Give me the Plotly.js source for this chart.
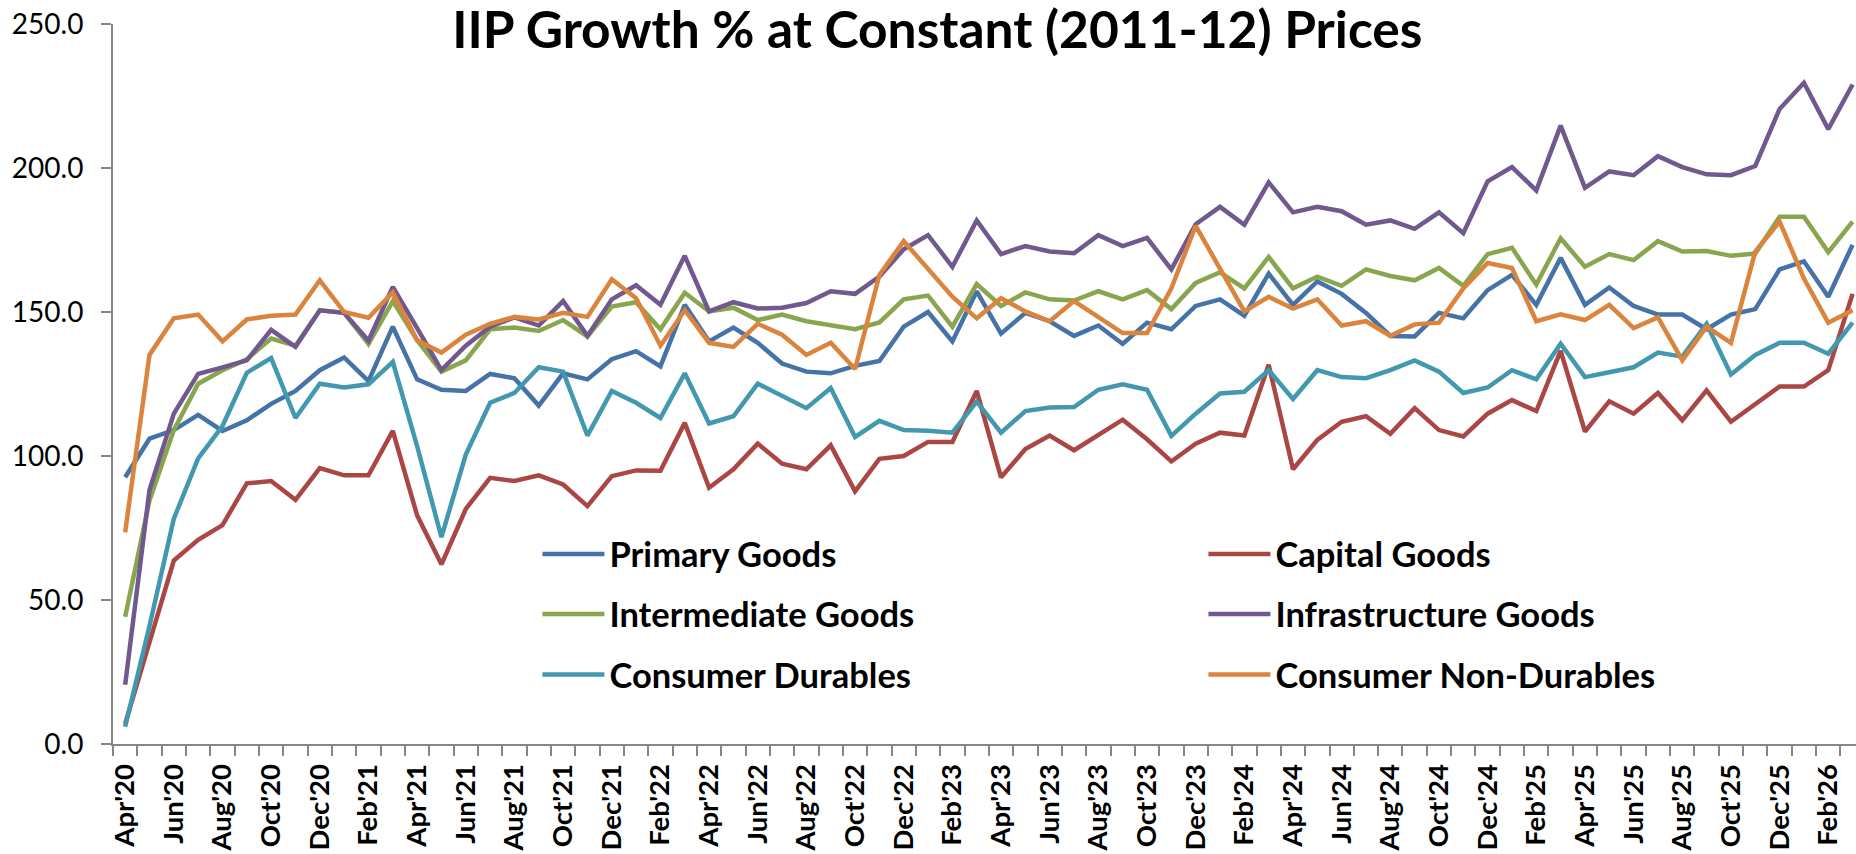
<!DOCTYPE html>
<html>
<head>
<meta charset="utf-8">
<script src="https://cdn.plot.ly/plotly-3.0.1.min.js"></script>
<style>html,body{margin:0;padding:0;background:#fff;}#chart{width:1856px;height:854px;}</style>
</head>
<body>
<div id="chart"></div>
<script>
const months = ["Apr'20","May'20","Jun'20","Jul'20","Aug'20","Sep'20","Oct'20","Nov'20","Dec'20","Jan'21","Feb'21","Mar'21",
"Apr'21","May'21","Jun'21","Jul'21","Aug'21","Sep'21","Oct'21","Nov'21","Dec'21","Jan'22","Feb'22","Mar'22",
"Apr'22","May'22","Jun'22","Jul'22","Aug'22","Sep'22","Oct'22","Nov'22","Dec'22","Jan'23","Feb'23","Mar'23",
"Apr'23","May'23","Jun'23","Jul'23","Aug'23","Sep'23","Oct'23","Nov'23","Dec'23","Jan'24","Feb'24","Mar'24",
"Apr'24","May'24","Jun'24","Jul'24","Aug'24","Sep'24","Oct'24","Nov'24","Dec'24","Jan'25","Feb'25","Mar'25",
"Apr'25","May'25","Jun'25","Jul'25","Aug'25","Sep'25","Oct'25","Nov'25","Dec'25","Jan'26","Feb'26","Mar'26"];

const primaryGoods = [92.6,106.0,109.0,114.3,108.7,112.4,118.1,122.6,129.8,134.2,126.0,144.9,
126.6,123.0,122.6,128.5,127.0,117.5,128.7,126.6,133.6,136.4,131.1,152.5,
139.8,144.6,139.3,132.1,129.3,128.7,131.3,133.0,144.9,150.0,139.8,157.2,
142.5,149.7,146.8,141.7,145.3,138.9,146.3,144.0,152.1,154.4,148.7,163.3,
152.5,160.6,156.3,149.7,141.7,141.5,149.7,147.8,157.6,162.9,152.5,168.8,
152.5,158.5,152.1,149.1,149.1,144.0,149.1,151.0,164.8,167.6,155.3,173.3];

const capitalGoods = [7.0,35.3,63.7,70.9,76.0,90.5,91.3,84.8,95.8,93.3,93.3,108.7,
79.4,62.4,81.6,92.4,91.3,93.3,90.1,82.6,93.0,95.0,94.9,111.5,
89.0,95.4,104.3,97.3,95.4,103.7,87.7,99.0,100.0,104.9,104.9,122.6,
92.6,102.4,107.1,102.0,107.5,112.6,105.8,98.1,104.3,108.1,107.1,131.7,
95.4,105.6,111.9,113.8,107.7,116.6,109.0,106.8,114.7,119.4,115.6,136.5,
108.5,119.0,114.7,121.9,112.4,122.8,111.9,117.9,124.1,124.1,129.8,156.3];

const intermediateGoods = [44.2,84.5,109.0,125.1,129.8,133.6,140.8,138.3,150.6,149.7,138.9,153.8,
140.2,129.3,133.2,144.0,144.6,143.4,147.2,141.5,151.9,153.4,144.0,156.7,
150.2,151.5,147.2,149.1,146.8,145.3,144.0,146.4,154.4,155.7,144.9,159.7,
152.1,156.8,154.4,154.0,157.2,154.4,157.6,151.0,160.1,163.8,158.2,169.1,
158.2,162.3,159.1,164.8,162.5,161.0,165.3,159.1,170.1,172.3,159.5,175.6,
165.7,170.1,168.0,174.6,171.0,171.2,169.5,170.3,183.1,183.1,170.8,181.4];

const infrastructureGoods = [20.6,88.2,114.7,128.5,130.8,133.2,143.8,137.9,150.6,149.7,140.0,158.7,
144.4,129.8,138.3,144.9,148.1,145.3,153.8,141.7,154.4,159.3,152.5,169.5,
150.2,153.4,151.2,151.5,153.1,157.2,156.3,162.3,171.8,176.7,165.7,181.8,
170.1,172.9,171.0,170.4,176.7,172.9,175.7,164.8,180.5,186.5,180.3,195.0,
184.6,186.5,185.0,180.3,181.8,178.9,184.6,177.4,195.4,200.3,192.2,214.7,
193.1,198.8,197.5,204.1,200.3,197.8,197.5,200.7,220.5,229.6,213.5,229.0];

const consumerDurables = [6.0,41.0,78.2,99.2,110.4,128.9,134.0,113.2,125.1,123.8,124.9,132.7,
103.4,71.8,100.5,118.5,121.9,130.8,129.3,107.1,122.6,118.5,113.2,128.7,
111.3,113.8,125.1,120.9,116.6,123.6,106.6,112.2,109.0,108.8,108.1,118.9,
108.1,115.6,116.8,117.0,123.0,124.9,123.0,107.0,114.7,121.7,122.3,129.8,
119.8,129.8,127.4,127.0,129.8,133.2,129.3,121.9,123.8,129.8,126.6,139.0,
127.4,129.1,130.8,135.9,134.5,145.9,128.3,135.1,139.3,139.3,135.5,146.3];

const consumerNonDurables = [73.5,135.1,147.8,149.1,139.8,147.4,148.7,149.1,161.0,150.0,148.0,156.8,
140.2,135.9,142.1,145.9,148.3,147.4,149.7,148.3,161.4,154.8,138.3,150.6,
139.3,137.9,145.9,142.1,135.1,139.3,130.2,162.9,174.6,164.8,155.3,147.8,
154.8,150.2,146.8,153.8,148.1,142.7,142.7,158.2,179.9,164.8,150.2,155.3,
151.2,154.4,145.3,146.8,141.7,145.7,146.3,158.2,167.0,165.3,146.8,149.2,
147.2,152.5,144.4,148.1,133.2,144.9,139.3,171.0,181.4,161.6,146.3,150.6];

const seriesNames = ["Primary Goods","Capital Goods","Intermediate Goods","Infrastructure Goods","Consumer Durables","Consumer Non-Durables"];
const seriesValues = [primaryGoods, capitalGoods, intermediateGoods, infrastructureGoods, consumerDurables, consumerNonDurables];
const seriesColors = ["#4572A7","#AA4643","#89A54E","#71588F","#4198AF","#DB843D"];
const legendIds = ["legend","legend2","legend3","legend4","legend5","legend6"];

const tickText = months.map((m, i) => (i % 2 === 0 ? m : ""));

const traces = seriesNames.map((name, k) => ({
  type: "scatter",
  mode: "lines",
  name: name,
  x: months,
  y: seriesValues[k],
  line: {color: seriesColors[k], width: 4.5},
  legend: legendIds[k],
  hoverinfo: "skip"
}));

const axisGray = "#868686";
const legendFont = {family: "Lato, 'Open Sans', sans-serif", size: 34.5, color: "#000", weight: "bold"};
function mkLegend(xv, yv) {
  return {
    orientation: "v",
    x: xv, xanchor: "left",
    y: yv, yanchor: "middle",
    font: legendFont,
    itemwidth: 62,
    bgcolor: "rgba(0,0,0,0)",
    borderwidth: 0
  };
}
const colA = 0.2435, colB = 0.6256;
const rowY = [0.2639, 0.1805, 0.0965];

const layout = {
  width: 1856, height: 854,
  margin: {l: 113, r: 0, t: 24, b: 110, pad: 0},
  paper_bgcolor: "#ffffff",
  plot_bgcolor: "#ffffff",
  title: {
    text: "IIP Growth % at Constant (2011-12) Prices",
    font: {family: "Lato, 'Open Sans', sans-serif", size: 51.5, color: "#000", weight: "bold"},
    x: 0.505, xref: "container", xanchor: "center",
    y: 0.965, yref: "container", yanchor: "middle"
  },
  xaxis: {
    type: "category",
    range: [-0.5, 71.14],
    tickmode: "array",
    tickvals: months,
    ticktext: tickText,
    tickson: "boundaries",
    ticks: "outside", ticklen: 10, tickwidth: 2, tickcolor: axisGray,
    ticklabelstandoff: 7,
    showline: true, linecolor: axisGray, linewidth: 2,
    showgrid: false, zeroline: false,
    tickangle: -90,
    tickfont: {family: "Lato, 'Open Sans', sans-serif", size: 27.5, color: "#000", weight: "bold"},
    fixedrange: true
  },
  yaxis: {
    range: [0, 250],
    tickmode: "linear", tick0: 0, dtick: 50,
    tickformat: ".1f",
    ticks: "outside", ticklen: 10, tickwidth: 2, tickcolor: axisGray,
    ticklabelstandoff: 12,
    showline: true, linecolor: axisGray, linewidth: 2,
    showgrid: false, zeroline: false,
    tickfont: {family: "Lato, 'Open Sans', sans-serif", size: 28, color: "#000"},
    fixedrange: true
  },
  showlegend: true,
  legend: mkLegend(colA, rowY[0]),
  legend2: mkLegend(colB, rowY[0]),
  legend3: mkLegend(colA, rowY[1]),
  legend4: mkLegend(colB, rowY[1]),
  legend5: mkLegend(colA, rowY[2]),
  legend6: mkLegend(colB, rowY[2])
};

Plotly.newPlot("chart", traces, layout, {displayModeBar: false, staticPlot: true});
</script>
</body>
</html>
